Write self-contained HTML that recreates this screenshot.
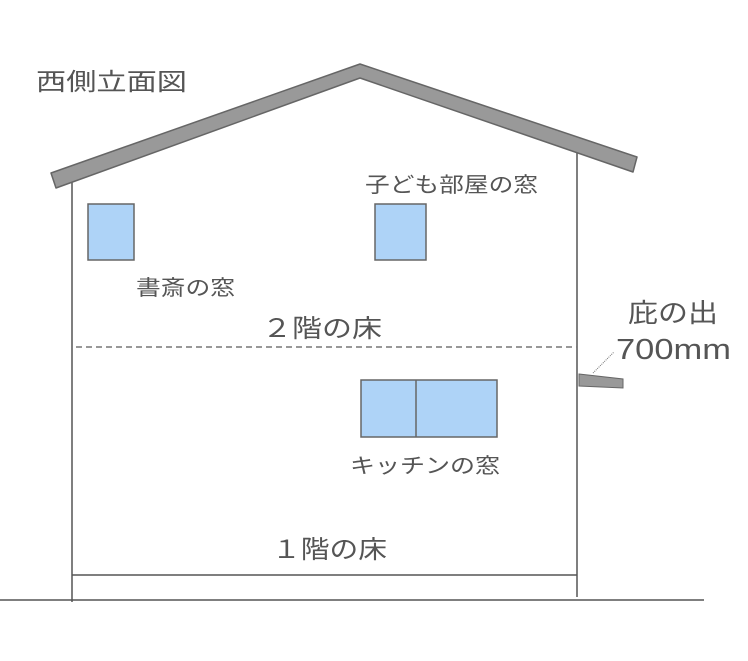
<!DOCTYPE html>
<html><head><meta charset="utf-8"><style>
body{margin:0;background:#fff;}
svg text{font-family:"Liberation Sans","Noto Sans CJK JP",sans-serif;fill:#555;}
</style></head><body>
<svg width="748" height="656" xmlns="http://www.w3.org/2000/svg">
<line x1="0" y1="600" x2="704" y2="600" stroke="#555" stroke-width="1.5"/>
<line x1="72" y1="180" x2="72" y2="602" stroke="#555" stroke-width="1.5"/>
<line x1="577" y1="152" x2="577" y2="597" stroke="#555" stroke-width="1.5"/>
<line x1="72" y1="575" x2="577" y2="575" stroke="#555" stroke-width="1.5"/>
<line x1="76" y1="347" x2="577" y2="347" stroke="#777" stroke-width="1.5" stroke-dasharray="6,4"/>
<polygon points="51,173 360,64 637,157 633,172 360,78 56,188" fill="#999" stroke="#666" stroke-width="1.5" stroke-linejoin="round"/>
<rect x="88" y="204" width="46" height="56" fill="#aed3f7" stroke="#666" stroke-width="1.5"/>
<rect x="375" y="204" width="51" height="56" fill="#aed3f7" stroke="#666" stroke-width="1.5"/>
<rect x="361" y="380" width="136" height="57" fill="#aed3f7" stroke="#666" stroke-width="1.5"/>
<line x1="416" y1="380" x2="416" y2="437" stroke="#666" stroke-width="1.5"/>
<polygon points="579,374 623,379 623,388 579,386" fill="#999" stroke="#666" stroke-width="1"/>
<line x1="593" y1="373" x2="614" y2="352" stroke="#777" stroke-width="1" stroke-dasharray="1,1"/>
<text x="36" y="90" font-size="24" textLength="151" lengthAdjust="spacingAndGlyphs">西側立面図</text>
<text x="365" y="192" font-size="21" textLength="173" lengthAdjust="spacingAndGlyphs">子ども部屋の窓</text>
<text x="136" y="295" font-size="21" textLength="99" lengthAdjust="spacingAndGlyphs">書斎の窓</text>
<text x="262" y="337" font-size="25" textLength="120" lengthAdjust="spacingAndGlyphs">２階の床</text>
<text x="628" y="322" font-size="26" textLength="90" lengthAdjust="spacingAndGlyphs">庇の出</text>
<text x="616" y="359" font-size="29" textLength="115" lengthAdjust="spacingAndGlyphs">700mm</text>
<text x="350" y="473" font-size="21" textLength="150" lengthAdjust="spacingAndGlyphs">キッチンの窓</text>
<text x="272" y="558" font-size="25" textLength="115" lengthAdjust="spacingAndGlyphs">１階の床</text>
</svg>
</body></html>
